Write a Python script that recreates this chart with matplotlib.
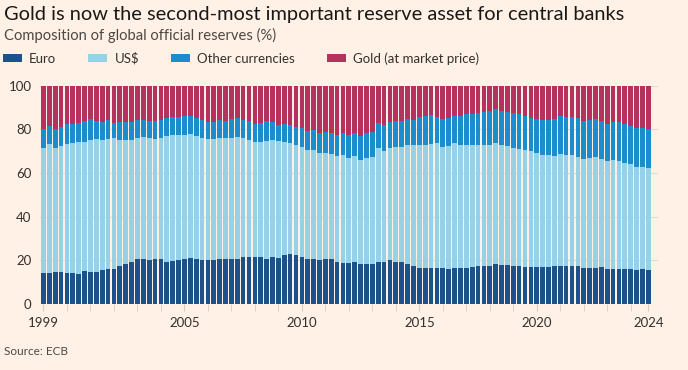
import matplotlib.pyplot as plt
import numpy as np

# quarterly shares (%), 1999 Q1 .. 2024 Q4
euro = [14.4, 14.4, 14.7, 14.5, 14.4, 14.4, 14.0, 15.1, 14.8, 14.7, 15.6, 16.0, 16.3, 17.6, 18.6, 19.5,
        20.6, 20.8, 20.2, 20.5, 20.8, 19.5, 19.7, 20.0, 20.8, 21.2, 20.9, 20.2, 20.0, 20.2, 20.6, 20.6,
        20.9, 20.9, 21.5, 21.5, 21.5, 21.7, 20.9, 21.7, 21.1, 22.7, 22.9, 22.4, 21.7, 20.6, 20.9, 20.2,
        20.6, 20.6, 19.4, 18.9, 18.8, 19.2, 18.5, 18.6, 18.3, 19.4, 19.4, 20.0, 19.2, 19.1, 18.2, 17.7,
        16.6, 16.6, 16.6, 16.5, 16.5, 16.2, 16.5, 16.5, 16.5, 17.1, 17.3, 17.7, 17.7, 18.3, 18.0, 17.9,
        17.7, 17.6, 16.9, 16.9, 16.9, 17.0, 16.9, 17.7, 17.4, 17.4, 17.4, 17.4, 16.6, 16.5, 16.5, 16.9,
        16.2, 16.3, 16.3, 16.3, 15.9, 15.7, 16.0, 15.7]
usd = [57.2, 58.9, 56.6, 58.0, 58.9, 59.2, 60.2, 59.4, 60.3, 60.9, 59.8, 59.7, 59.6, 57.5, 56.5, 55.9,
       55.7, 55.7, 56.0, 55.2, 55.5, 57.4, 57.7, 57.3, 56.9, 56.7, 56.0, 56.1, 55.6, 55.4, 55.3, 55.3,
       55.4, 55.7, 54.5, 53.9, 52.7, 52.5, 53.9, 53.4, 53.6, 51.8, 50.7, 50.6, 50.4, 50.1, 49.5, 49.1,
       48.6, 48.1, 48.5, 49.3, 48.2, 48.6, 47.3, 48.3, 48.9, 51.9, 50.7, 51.3, 52.9, 52.8, 54.6, 55.1,
       56.1, 56.1, 56.8, 57.2, 55.6, 56.2, 57.1, 56.3, 56.3, 55.6, 55.4, 55.3, 55.4, 55.3, 54.7, 54.5,
       53.9, 53.5, 53.5, 53.2, 52.4, 51.2, 51.3, 50.1, 51.3, 50.8, 50.8, 50.2, 49.8, 50.4, 50.8, 49.7,
       49.3, 49.8, 49.3, 48.4, 48.2, 47.2, 46.6, 46.6]
other = [8.6, 8.4, 8.9, 8.7, 9.1, 8.7, 8.9, 9.2, 9.5, 8.2, 8.1, 8.6, 7.2, 8.3, 8.4, 8.0,
         8.0, 7.8, 7.5, 8.0, 8.1, 8.4, 8.1, 8.2, 8.6, 8.4, 8.3, 8.1, 7.9, 7.9, 8.4, 8.2,
         8.3, 8.6, 8.4, 8.3, 8.5, 8.9, 8.9, 8.3, 7.4, 8.1, 8.4, 8.1, 8.7, 8.8, 9.3, 9.3,
         9.6, 9.8, 9.7, 10.3, 10.4, 10.5, 11.1, 11.3, 11.6, 11.8, 11.9, 12.1, 11.7, 11.9, 11.9, 11.6,
         12.8, 13.3, 13.3, 11.8, 12.9, 12.9, 12.8, 13.6, 14.4, 14.5, 14.8, 14.8, 15.4, 15.6, 15.7, 15.8,
         15.9, 15.8, 16.0, 15.2, 15.6, 16.1, 16.1, 16.8, 17.3, 17.3, 17.3, 17.6, 17.6, 17.4, 17.3, 17.5,
         17.2, 17.4, 17.9, 18.0, 17.6, 17.9, 18.2, 17.9]
gold = [19.8, 18.3, 19.8, 18.8, 17.6, 17.7, 16.9, 16.3, 15.4, 16.2, 16.5, 15.7, 16.9, 16.6, 16.5, 16.6,
        15.7, 15.7, 16.3, 16.3, 15.6, 14.7, 14.5, 14.5, 13.7, 13.7, 14.8, 15.6, 16.5, 16.5, 15.7, 15.9,
        15.4, 14.8, 15.6, 16.3, 17.3, 16.9, 16.3, 16.6, 17.9, 17.4, 18.0, 18.9, 19.2, 20.5, 20.3, 21.4,
        21.2, 21.5, 22.4, 21.5, 22.6, 21.7, 23.1, 21.8, 21.2, 16.9, 18.0, 16.6, 16.2, 16.2, 15.3, 15.6,
        14.5, 14.0, 13.3, 14.5, 15.0, 14.7, 13.6, 13.6, 12.8, 12.8, 12.5, 12.2, 11.5, 10.8, 11.6, 11.8,
        12.5, 13.1, 13.6, 14.7, 15.1, 15.7, 15.7, 15.4, 14.0, 14.5, 14.5, 14.8, 16.0, 15.7, 15.4, 15.9,
        17.3, 16.5, 16.5, 17.3, 18.3, 19.2, 19.2, 19.8]

labels = ["Euro", "US$", "Other currencies", "Gold (at market price)"]
colors = ["#1d5189", "#97d1e8", "#1b8ccc", "#b6325e"]
year_labels = ["1999", "2005", "2010", "2015", "2020", "2024"]

bg = "#fff1e5"
plt.rcParams['font.family'] = ['Lato', 'DejaVu Sans']

fig = plt.figure(figsize=(6.88, 3.70), dpi=100, facecolor=bg)
ax = fig.add_axes([0.058, 0.178, 0.898, 0.59], facecolor=bg)

x = np.arange(len(euro))
bottom = np.zeros(len(euro))
for vals, lab, col in zip([euro, usd, other, gold], labels, colors):
    ax.bar(x, vals, bottom=bottom, width=0.8, color=col, label=lab, linewidth=0, zorder=2)
    bottom += np.array(vals)

ax.set_ylim(0, 100)
ax.set_xlim(-0.61, 104.6)
ax.set_yticks([0, 20, 40, 60, 80, 100])
ax.grid(axis="y", color="#e6d9ce", linewidth=0.8, zorder=0)
ax.tick_params(axis="y", length=0, labelsize=9.5, labelcolor="#33302e", pad=6)

# year ticks at first quarter of each year, labels on a few, last label at the end
ax.set_xticks(np.arange(0, 104, 4), minor=True)
major_pos = [0, 24, 44, 64, 84, len(euro) - 1]
ax.set_xticks(major_pos)
ax.set_xticklabels(year_labels)
ax.tick_params(axis="x", which="both", length=5, color="#d9cbbf", labelsize=9.5,
               labelcolor="#33302e", pad=4)

for s in ax.spines.values():
    s.set_visible(False)

fig.text(0.006, 0.962, "Gold is now the second-most important reserve asset for central banks",
         fontsize=14.4, color="#1a1817", va="center")
fig.text(0.006, 0.905, "Composition of global official reserves (%)",
         fontsize=10.6, color="#4d4845", va="center")
fig.text(0.006, 0.05, "Source: ECB", fontsize=8.5, color="#4d4845", va="center")

fig.legend(loc="center left", bbox_to_anchor=(0.0, 0.842), ncol=4, frameon=False,
           fontsize=9.5, handlelength=1.48, handleheight=0.57, columnspacing=2.4,
           handletextpad=0.53, labelcolor="#33302e", borderaxespad=0, borderpad=0.2)

fig.savefig("out.png", dpi=100, facecolor=bg)
